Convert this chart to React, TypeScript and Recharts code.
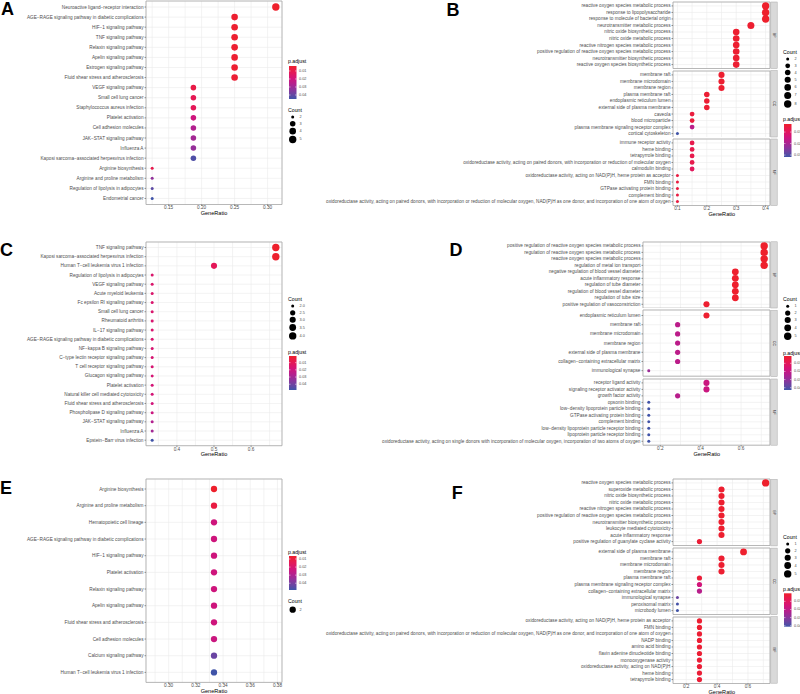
import React from 'react';
import { ScatterChart, Scatter, XAxis, YAxis, CartesianGrid, ReferenceArea } from 'recharts';

const FONT = '"Liberation Sans", Arial, Helvetica, sans-serif';
const TXT = '#4D4D4D';

// ---------- A: KEGG ----------
const aLabels = [
  'Neuroactive ligand−receptor interaction',
  'AGE−RAGE signaling pathway in diabetic complications',
  'HIF−1 signaling pathway',
  'TNF signaling pathway',
  'Relaxin signaling pathway',
  'Apelin signaling pathway',
  'Estrogen signaling pathway',
  'Fluid shear stress and atherosclerosis',
  'VEGF signaling pathway',
  'Small cell lung cancer',
  'Staphylococcus aureus infection',
  'Platelet activation',
  'Cell adhesion molecules',
  'JAK−STAT signaling pathway',
  'Influenza A',
  'Kaposi sarcoma−associated herpesvirus infection',
  'Arginine biosynthesis',
  'Arginine and proline metabolism',
  'Regulation of lipolysis in adipocytes',
  'Endometrial cancer',
];
const aCounts = [5, 4, 4, 4, 4, 4, 4, 4, 3, 3, 3, 3, 3, 3, 3, 3, 2, 2, 2, 2];
const aPadj = [0.0038, 0.0046, 0.0046, 0.0046, 0.005, 0.005, 0.005, 0.0054, 0.0087, 0.0112, 0.012, 0.0203, 0.0265, 0.0293, 0.0318, 0.0429, 0.01, 0.0326, 0.0409, 0.045];
const aTotal = 16;

// ---------- B: GO ----------
const bBpLabels = [
  'reactive oxygen species metabolic process',
  'response to lipopolysaccharide',
  'response to molecule of bacterial origin',
  'neurotransmitter metabolic process',
  'nitric oxide biosynthetic process',
  'nitric oxide metabolic process',
  'reactive nitrogen species metabolic process',
  'positive regulation of reactive oxygen species metabolic process',
  'neurotransmitter biosynthetic process',
  'reactive oxygen species biosynthetic process',
];
const bBpCounts = [8, 8, 8, 7, 6, 6, 6, 6, 6, 6];
const bBpPadj = [0.003, 0.003, 0.003, 0.0036, 0.0036, 0.0036, 0.0036, 0.0039, 0.0039, 0.0039];
const bCcLabels = [
  'membrane raft',
  'membrane microdomain',
  'membrane region',
  'plasma membrane raft',
  'endoplasmic reticulum lumen',
  'external side of plasma membrane',
  'caveola',
  'blood microparticle',
  'plasma membrane signaling receptor complex',
  'cortical cytoskeleton',
];
const bCcCounts = [5, 5, 5, 4, 4, 4, 3, 3, 3, 2];
const bCcPadj = [0.0036, 0.0036, 0.0036, 0.0041, 0.0041, 0.0041, 0.0053, 0.0053, 0.0174, 0.0317];
const bMfLabels = [
  'immune receptor activity',
  'heme binding',
  'tetrapyrrole binding',
  'oxidoreductase activity, acting on paired donors, with incorporation or reduction of molecular oxygen',
  'calmodulin binding',
  'oxidoreductase activity, acting on NAD(P)H, heme protein as acceptor',
  'FMN binding',
  'GTPase activating protein binding',
  'complement binding',
  'oxidoreductase activity, acting on paired donors, with incorporation or reduction of molecular oxygen, NAD(P)H as one donor, and incorporation of one atom of oxygen',
];
const bMfCounts = [3, 3, 3, 3, 3, 2, 2, 2, 2, 2];
const bMfPadj = [0.0073, 0.0073, 0.0073, 0.0073, 0.0093, 0.0059, 0.0059, 0.0059, 0.0059, 0.0059];
const bTotal = 20;

// ---------- C: KEGG ----------
const cLabels = [
  'TNF signaling pathway',
  'Kaposi sarcoma−associated herpesvirus infection',
  'Human T−cell leukemia virus 1 infection',
  'Regulation of lipolysis in adipocytes',
  'VEGF signaling pathway',
  'Acute myeloid leukemia',
  'Fc epsilon RI signaling pathway',
  'Small cell lung cancer',
  'Rheumatoid arthritis',
  'IL−17 signaling pathway',
  'AGE−RAGE signaling pathway in diabetic complications',
  'NF−kappa B signaling pathway',
  'C−type lectin receptor signaling pathway',
  'T cell receptor signaling pathway',
  'Glucagon signaling pathway',
  'Platelet activation',
  'Natural killer cell mediated cytotoxicity',
  'Fluid shear stress and atherosclerosis',
  'Phospholipase D signaling pathway',
  'JAK−STAT signaling pathway',
  'Influenza A',
  'Epstein−Barr virus infection',
];
const cCounts = [4, 4, 3, 2, 2, 2, 2, 2, 2, 2, 2, 2, 2, 2, 2, 2, 2, 2, 2, 2, 2, 2];
const cPadj = [0.0008, 0.0013, 0.0102, 0.015, 0.015, 0.015, 0.0154, 0.0154, 0.0159, 0.0159, 0.0159, 0.0164, 0.0168, 0.0168, 0.0173, 0.0178, 0.0178, 0.0187, 0.0206, 0.0268, 0.0301, 0.048];
const cTotal = 6;

// ---------- D: GO ----------
const dBpLabels = [
  'positive regulation of reactive oxygen species metabolic process',
  'regulation of reactive oxygen species metabolic process',
  'reactive oxygen species metabolic process',
  'regulation of metal ion transport',
  'negative regulation of blood vessel diameter',
  'acute inflammatory response',
  'regulation of tube diameter',
  'regulation of blood vessel diameter',
  'regulation of tube size',
  'positive regulation of vasoconstriction',
];
const dBpCounts = [5, 5, 5, 5, 4, 4, 4, 4, 4, 3];
const dBpPadj = [0.001, 0.001, 0.001, 0.001, 0.0014, 0.0014, 0.0014, 0.0014, 0.0014, 0.0018];
const dCcLabels = [
  'endoplasmic reticulum lumen',
  'membrane raft',
  'membrane microdomain',
  'membrane region',
  'external side of plasma membrane',
  'collagen−containing extracellular matrix',
  'immunological synapse',
];
const dCcCounts = [3, 2, 2, 2, 2, 2, 1];
const dCcPadj = [0.0018, 0.0219, 0.0219, 0.0219, 0.0219, 0.0219, 0.0282];
const dMfLabels = [
  'receptor ligand activity',
  'signaling receptor activator activity',
  'growth factor activity',
  'opsonin binding',
  'low−density lipoprotein particle binding',
  'GTPase activating protein binding',
  'complement binding',
  'low−density lipoprotein particle receptor binding',
  'lipoprotein particle receptor binding',
  'oxidoreductase activity, acting on single donors with incorporation of molecular oxygen, incorporation of two atoms of oxygen',
];
const dMfCounts = [3, 3, 2, 1, 1, 1, 1, 1, 1, 1];
const dMfPadj = [0.0186, 0.0186, 0.0227, 0.0428, 0.0428, 0.0428, 0.0428, 0.0428, 0.0428, 0.0428];
const dTotal = 7;

// ---------- E: KEGG ----------
const eLabels = [
  'Arginine biosynthesis',
  'Arginine and proline metabolism',
  'Hematopoietic cell lineage',
  'AGE−RAGE signaling pathway in diabetic complications',
  'HIF−1 signaling pathway',
  'Platelet activation',
  'Relaxin signaling pathway',
  'Apelin signaling pathway',
  'Fluid shear stress and atherosclerosis',
  'Cell adhesion molecules',
  'Calcium signaling pathway',
  'Human T−cell leukemia virus 1 infection',
];
const eCounts = [2, 2, 2, 2, 2, 2, 2, 2, 2, 2, 2, 2];
const ePadj = [0.0063, 0.0105, 0.0231, 0.0231, 0.0231, 0.0231, 0.0231, 0.0231, 0.0231, 0.024, 0.0421, 0.0484];
const eTotal = 6;

// ---------- F: GO ----------
const fBpLabels = [
  'reactive oxygen species metabolic process',
  'superoxide metabolic process',
  'nitric oxide biosynthetic process',
  'nitric oxide metabolic process',
  'reactive nitrogen species metabolic process',
  'positive regulation of reactive oxygen species metabolic process',
  'neurotransmitter biosynthetic process',
  'leukocyte mediated cytotoxicity',
  'acute inflammatory response',
  'positive regulation of guanylate cyclase activity',
];
const fBpCounts = [5, 3, 3, 3, 3, 3, 3, 3, 3, 2];
const fBpPadj = [0.0001, 0.0009, 0.0009, 0.0009, 0.0009, 0.0009, 0.0009, 0.0009, 0.0009, 0.0022];
const fCcLabels = [
  'external side of plasma membrane',
  'membrane raft',
  'membrane microdomain',
  'membrane region',
  'plasma membrane raft',
  'plasma membrane signaling receptor complex',
  'collagen−containing extracellular matrix',
  'immunological synapse',
  'peroxisomal matrix',
  'microbody lumen',
];
const fCcCounts = [4, 3, 3, 3, 2, 2, 2, 1, 1, 1];
const fCcPadj = [0.0005, 0.0013, 0.0013, 0.0013, 0.0026, 0.0157, 0.0215, 0.035, 0.0405, 0.0412];
const fMfLabels = [
  'oxidoreductase activity, acting on NAD(P)H, heme protein as acceptor',
  'FMN binding',
  'oxidoreductase activity, acting on paired donors, with incorporation or reduction of molecular oxygen, NAD(P)H as one donor, and incorporation of one atom of oxygen',
  'NADP binding',
  'amino acid binding',
  'flavin adenine dinucleotide binding',
  'monooxygenase activity',
  'oxidoreductase activity, acting on NAD(P)H',
  'heme binding',
  'tetrapyrrole binding',
];
const fMfCounts = [2, 2, 2, 2, 2, 2, 2, 2, 2, 2];
const fMfPadj = [0.0013, 0.0013, 0.0017, 0.0017, 0.0017, 0.0017, 0.0022, 0.0022, 0.0022, 0.0022];
const fTotal = 7;

// ---------- helpers ----------
const STOPS = [
  [0, 238, 32, 44],
  [0.2, 228, 24, 88],
  [0.38, 210, 20, 122],
  [0.55, 178, 32, 143],
  [0.72, 140, 52, 156],
  [0.86, 104, 70, 162],
  [1, 64, 84, 168],
];

function colorAt(t: number) {
  const v = Math.max(0, Math.min(1, t));
  for (let i = 1; i < STOPS.length; i++) {
    const a = STOPS[i - 1];
    const b = STOPS[i];
    if (v <= b[0]) {
      const f = (v - a[0]) / (b[0] - a[0]);
      const c = [1, 2, 3].map((k) => Math.round(a[k] + (b[k] - a[k]) * f));
      return `rgb(${c[0]},${c[1]},${c[2]})`;
    }
  }
  return 'rgb(64,84,168)';
}

const D_MIN = 3.0;
const D_MAX = 7.4;
function diam(count: number, lo: number, hi: number) {
  if (hi - lo < 1e-9) return 6.3;
  return D_MIN + (D_MAX - D_MIN) * Math.sqrt((count - lo) / (hi - lo));
}

function expand(vals: number[]): [number, number] {
  const lo = Math.min(...vals);
  const hi = Math.max(...vals);
  if (hi - lo < 1e-9) return [lo - 0.05, hi + 0.05];
  const pad = (hi - lo) * 0.05;
  return [lo - pad, hi + pad];
}

function XTick(props: any) {
  const { x, y, payload, majors, digits } = props;
  const v = payload.value;
  if (!majors.some((m: number) => Math.abs(m - v) < 1e-9)) return null;
  return (
    <g>
      <line x1={x} x2={x} y1={y - 3} y2={y - 1.5} stroke="#333" strokeWidth={0.5} />
      <text x={x} y={y + 0.4} textAnchor="middle" dominantBaseline="central" fontSize={4.7} fill={TXT} fontFamily={FONT}>
        {v.toFixed(digits)}
      </text>
    </g>
  );
}

function YTick(props: any) {
  const { x, y, payload, labels } = props;
  return (
    <text x={x} y={y} textAnchor="end" dominantBaseline="central" fontSize={4.7} fill={TXT} fontFamily={FONT}>
      {labels[payload.value]}
    </text>
  );
}

type ChartProps = {
  labels: string[];
  counts: number[];
  padj: number[];
  total: number;
  xDomain: [number, number];
  majors: number[];
  minors: number[];
  digits: number;
  sizeLo: number;
  sizeHi: number;
  pLo: number;
  pHi: number;
  x: number;
  w: number;
  top: number;
  h: number;
  showX: boolean;
  labelSpace: number;
};

function DotChart(p: ChartProps) {
  const n = p.labels.length;
  const data = p.labels.map((label, i) => ({
    ratio: p.counts[i] / p.total,
    row: i,
    count: p.counts[i],
    padj: p.padj[i],
    label,
  }));
  const mt = 2;
  const mr = 2;
  const xh = p.showX ? 12 : 0;
  const xTicks = [...p.majors, ...p.minors].sort((a, b) => a - b);
  const yDomain: [number, number] = [-0.6, n - 0.4];
  return (
    <div style={{ position: 'absolute', left: p.x - p.labelSpace, top: p.top - mt }}>
      <ScatterChart
        width={p.labelSpace + p.w + mr}
        height={mt + p.h + xh}
        margin={{ top: mt, right: mr, bottom: 0, left: 0 }}
      >
        <CartesianGrid stroke="#EBEBEB" strokeWidth={0.6} />
        <XAxis
          type="number"
          dataKey="ratio"
          domain={p.xDomain}
          allowDataOverflow
          ticks={xTicks}
          interval={0}
          hide={!p.showX}
          height={xh}
          axisLine={false}
          tickLine={false}
          tickSize={2}
          tickMargin={1}
          tick={<XTick majors={p.majors} digits={p.digits} />}
        />
        <YAxis
          type="number"
          dataKey="row"
          domain={yDomain}
          reversed
          allowDataOverflow
          ticks={p.labels.map((_, i) => i)}
          interval={0}
          width={p.labelSpace}
          axisLine={false}
          tickSize={1.5}
          tickMargin={1}
          tickLine={{ stroke: '#333', strokeWidth: 0.5 }}
          tick={<YTick labels={p.labels} />}
        />
        <ReferenceArea
          x1={p.xDomain[0]}
          x2={p.xDomain[1]}
          y1={yDomain[0]}
          y2={yDomain[1]}
          fill="none"
          stroke="#A8A8A8"
          strokeWidth={0.8}
          ifOverflow="visible"
        />
        <Scatter
          data={data}
          isAnimationActive={false}
          shape={(sp: any) => (
            <circle
              cx={sp.cx}
              cy={sp.cy}
              r={diam(sp.payload.count, p.sizeLo, p.sizeHi) / 2}
              fill={colorAt((sp.payload.padj - p.pLo) / (p.pHi - p.pLo))}
            />
          )}
        />
      </ScatterChart>
    </div>
  );
}

function ColorLegend({ x, titleY, barTop, barH, pLo, pHi }: any) {
  const barW = 7.5;
  const ticks = [0.01, 0.02, 0.03, 0.04].filter((v) => v >= pLo && v <= pHi);
  return (
    <g fontFamily={FONT}>
      <text x={x} y={titleY} fontSize={5.2} dominantBaseline="central" fill="#000">p.adjust</text>
      <rect x={x + 1} y={barTop} width={barW} height={barH} fill="url(#padjGrad)" />
      {ticks.map((v) => {
        const yy = barTop + ((v - pLo) / (pHi - pLo)) * barH;
        return (
          <g key={v}>
            <line x1={x + 1} x2={x + 2.5} y1={yy} y2={yy} stroke="#fff" strokeWidth={0.5} />
            <line x1={x + 1 + barW - 1.5} x2={x + 1 + barW} y1={yy} y2={yy} stroke="#fff" strokeWidth={0.5} />
            <text x={x + barW + 3.5} y={yy} fontSize={3.8} dominantBaseline="central" fill={TXT}>
              {v.toFixed(2)}
            </text>
          </g>
        );
      })}
    </g>
  );
}

function SizeLegend({ x, titleY, values, lo, hi, digits }: any) {
  const ds = values.map((v: number) => diam(v, lo, hi));
  const ys: number[] = [];
  let yy = titleY + 5.5 + ds[0] / 2;
  ds.forEach((d: number, i: number) => {
    if (i > 0) yy += Math.max(6.8, (ds[i - 1] + d) / 2 + 1.3);
    ys.push(yy);
  });
  return (
    <g fontFamily={FONT}>
      <text x={x} y={titleY} fontSize={5.2} dominantBaseline="central" fill="#000">Count</text>
      {values.map((v: number, i: number) => (
        <g key={v}>
          <circle cx={x + 4.7} cy={ys[i]} r={ds[i] / 2} fill="#000" />
          <text x={x + 11.5} y={ys[i]} fontSize={3.8} dominantBaseline="central" fill={TXT}>
            {v.toFixed(digits)}
          </text>
        </g>
      ))}
    </g>
  );
}

function Strip({ top, h, text }: any) {
  const x = 770.8;
  const w = 6.4;
  return (
    <g>
      <rect x={x} y={top} width={w} height={h} fill="#D9D9D9" stroke="#A8A8A8" strokeWidth={0.5} />
      <text
        x={x + w / 2}
        y={top + h / 2}
        fontSize={3.4}
        fill="#1A1A1A"
        fontFamily={FONT}
        textAnchor="middle"
        dominantBaseline="central"
        transform={`rotate(90 ${x + w / 2} ${top + h / 2})`}
      >
        {text}
      </text>
    </g>
  );
}

function Letter({ x, y, t }: any) {
  return (
    <text x={x} y={y} fontSize={18} fontWeight="bold" fontFamily={FONT} fill="#000">
      {t}
    </text>
  );
}

function AxisTitle({ x, w, bottom }: any) {
  return (
    <text x={x + w / 2} y={bottom + 8.5} fontSize={5.6} textAnchor="middle" dominantBaseline="central" fill="#000" fontFamily={FONT}>
      GeneRatio
    </text>
  );
}

const rng = (arr: number[]): [number, number] => [Math.min(...arr), Math.max(...arr)];

export default function App() {
  const aX = expand(aCounts.map((c) => c / aTotal));
  const aP = rng(aPadj);
  const aS = rng(aCounts);

  const bCounts = [...bBpCounts, ...bCcCounts, ...bMfCounts];
  const bX = expand(bCounts.map((c) => c / bTotal));
  const bP = rng([...bBpPadj, ...bCcPadj, ...bMfPadj]);
  const bS = rng(bCounts);

  const cX = expand(cCounts.map((c) => c / cTotal));
  const cP = rng(cPadj);
  const cS = rng(cCounts);

  const dCounts = [...dBpCounts, ...dCcCounts, ...dMfCounts];
  const dX = expand(dCounts.map((c) => c / dTotal));
  const dP = rng([...dBpPadj, ...dCcPadj, ...dMfPadj]);
  const dS = rng(dCounts);

  const eX = expand(eCounts.map((c) => c / eTotal));
  const eP = rng(ePadj);
  const eS = rng(eCounts);

  const fCounts = [...fBpCounts, ...fCcCounts, ...fMfCounts];
  const fX = expand(fCounts.map((c) => c / fTotal));
  const fP = rng([...fBpPadj, ...fCcPadj, ...fMfPadj]);
  const fS = rng(fCounts);

  const left = { x: 146, w: 136, labelSpace: 146 };
  const aC = { ...left, top: 0.5, h: 203.5 };
  const cC = { ...left, top: 241.8, h: 203.7 };
  const eC = { ...left, top: 479.3, h: 203.4 };

  const bF = [
    { top: 2, h: 66.5 },
    { top: 70.5, h: 66.5 },
    { top: 139, h: 66.5 },
  ];
  const dF = [
    { top: 241.8, h: 66.2 },
    { top: 310.4, h: 66.2 },
    { top: 379, h: 66.2 },
  ];
  const fF = [
    { top: 479.4, h: 66.5 },
    { top: 548.1, h: 66.5 },
    { top: 616.7, h: 66.5 },
  ];

  const bCommon = { total: bTotal, xDomain: bX, majors: [0.1, 0.2, 0.3, 0.4], minors: [0.15, 0.25, 0.35], digits: 1, sizeLo: bS[0], sizeHi: bS[1], pLo: bP[0], pHi: bP[1], x: 673.3, w: 97, labelSpace: 353 };
  const dCommon = { total: dTotal, xDomain: dX, majors: [0.2, 0.4, 0.6], minors: [0.3, 0.5, 0.7], digits: 1, sizeLo: dS[0], sizeHi: dS[1], pLo: dP[0], pHi: dP[1], x: 643.3, w: 127, labelSpace: 310 };
  const fCommon = { total: fTotal, xDomain: fX, majors: [0.2, 0.4, 0.6], minors: [0.3, 0.5, 0.7], digits: 1, sizeLo: fS[0], sizeHi: fS[1], pLo: fP[0], pHi: fP[1], x: 673.3, w: 97, labelSpace: 353 };

  return (
    <div style={{ position: 'absolute', left: 0, top: 0, width: 800, height: 694, background: '#fff', overflow: 'hidden', fontFamily: FONT }}>
      <DotChart labels={aLabels} counts={aCounts} padj={aPadj} total={aTotal} xDomain={aX} majors={[0.15, 0.2, 0.25, 0.3]} minors={[0.125, 0.175, 0.225, 0.275]} digits={2} sizeLo={aS[0]} sizeHi={aS[1]} pLo={aP[0]} pHi={aP[1]} {...aC} showX />
      <DotChart labels={cLabels} counts={cCounts} padj={cPadj} total={cTotal} xDomain={cX} majors={[0.4, 0.5, 0.6]} minors={[0.35, 0.45, 0.55, 0.65]} digits={1} sizeLo={cS[0]} sizeHi={cS[1]} pLo={cP[0]} pHi={cP[1]} {...cC} showX />
      <DotChart labels={eLabels} counts={eCounts} padj={ePadj} total={eTotal} xDomain={eX} majors={[0.3, 0.32, 0.34, 0.36, 0.38]} minors={[0.29, 0.31, 0.33, 0.35, 0.37]} digits={2} sizeLo={eS[0]} sizeHi={eS[1]} pLo={eP[0]} pHi={eP[1]} {...eC} showX />

      <DotChart labels={bBpLabels} counts={bBpCounts} padj={bBpPadj} {...bCommon} {...bF[0]} showX={false} />
      <DotChart labels={bCcLabels} counts={bCcCounts} padj={bCcPadj} {...bCommon} {...bF[1]} showX={false} />
      <DotChart labels={bMfLabels} counts={bMfCounts} padj={bMfPadj} {...bCommon} {...bF[2]} showX />

      <DotChart labels={dBpLabels} counts={dBpCounts} padj={dBpPadj} {...dCommon} {...dF[0]} showX={false} />
      <DotChart labels={dCcLabels} counts={dCcCounts} padj={dCcPadj} {...dCommon} {...dF[1]} showX={false} />
      <DotChart labels={dMfLabels} counts={dMfCounts} padj={dMfPadj} {...dCommon} {...dF[2]} showX />

      <DotChart labels={fBpLabels} counts={fBpCounts} padj={fBpPadj} {...fCommon} {...fF[0]} showX={false} />
      <DotChart labels={fCcLabels} counts={fCcCounts} padj={fCcPadj} {...fCommon} {...fF[1]} showX={false} />
      <DotChart labels={fMfLabels} counts={fMfCounts} padj={fMfPadj} {...fCommon} {...fF[2]} showX />

      <svg width={800} height={694} style={{ position: 'absolute', left: 0, top: 0, pointerEvents: 'none' }}>
        <defs>
          <linearGradient id="padjGrad" x1="0" y1="0" x2="0" y2="1">
            {STOPS.map((s) => (
              <stop key={s[0]} offset={s[0]} stopColor={`rgb(${s[1]},${s[2]},${s[3]})`} />
            ))}
          </linearGradient>
        </defs>

        <Letter x={1} y={15} t="A" />
        <Letter x={446.4} y={15.5} t="B" />
        <Letter x={0} y={256} t="C" />
        <Letter x={449.4} y={256} t="D" />
        <Letter x={0} y={494.3} t="E" />
        <Letter x={451.7} y={499.3} t="F" />

        <AxisTitle x={aC.x} w={aC.w} bottom={aC.top + aC.h} />
        <AxisTitle x={cC.x} w={cC.w} bottom={cC.top + cC.h} />
        <AxisTitle x={eC.x} w={eC.w} bottom={eC.top + eC.h} />
        <AxisTitle x={bCommon.x} w={bCommon.w} bottom={bF[2].top + bF[2].h} />
        <AxisTitle x={dCommon.x} w={dCommon.w} bottom={dF[2].top + dF[2].h} />
        <AxisTitle x={fCommon.x} w={fCommon.w} bottom={fF[2].top + fF[2].h} />

        {['BP', 'CC', 'MF'].map((t, i) => (
          <g key={t}>
            <Strip top={bF[i].top} h={bF[i].h} text={t} />
            <Strip top={dF[i].top} h={dF[i].h} text={t} />
            <Strip top={fF[i].top} h={fF[i].h} text={t} />
          </g>
        ))}

        <ColorLegend x={288} titleY={61} barTop={66} barH={33} pLo={aP[0]} pHi={aP[1]} />
        <SizeLegend x={288} titleY={110} values={[2, 3, 4, 5]} lo={aS[0]} hi={aS[1]} digits={0} />

        <SizeLegend x={783} titleY={52} values={[2, 3, 4, 5, 6, 7, 8]} lo={bS[0]} hi={bS[1]} digits={0} />
        <ColorLegend x={783} titleY={119} barTop={124} barH={33} pLo={bP[0]} pHi={bP[1]} />

        <SizeLegend x={288} titleY={299} values={[2, 2.5, 3, 3.5, 4]} lo={cS[0]} hi={cS[1]} digits={1} />
        <ColorLegend x={288} titleY={352} barTop={356} barH={34} pLo={cP[0]} pHi={cP[1]} />

        <SizeLegend x={783} titleY={299.3} values={[1, 2, 3, 4, 5]} lo={dS[0]} hi={dS[1]} digits={0} />
        <ColorLegend x={783} titleY={352.7} barTop={356} barH={34} pLo={dP[0]} pHi={dP[1]} />

        <ColorLegend x={288} titleY={551.7} barTop={556} barH={34} pLo={eP[0]} pHi={eP[1]} />
        <SizeLegend x={288} titleY={601} values={[2]} lo={eS[0]} hi={eS[1]} digits={0} />

        <SizeLegend x={783} titleY={537} values={[1, 2, 3, 4, 5]} lo={fS[0]} hi={fS[1]} digits={0} />
        <ColorLegend x={783} titleY={589.3} barTop={593.3} barH={33.4} pLo={fP[0]} pHi={fP[1]} />
      </svg>
    </div>
  );
}
